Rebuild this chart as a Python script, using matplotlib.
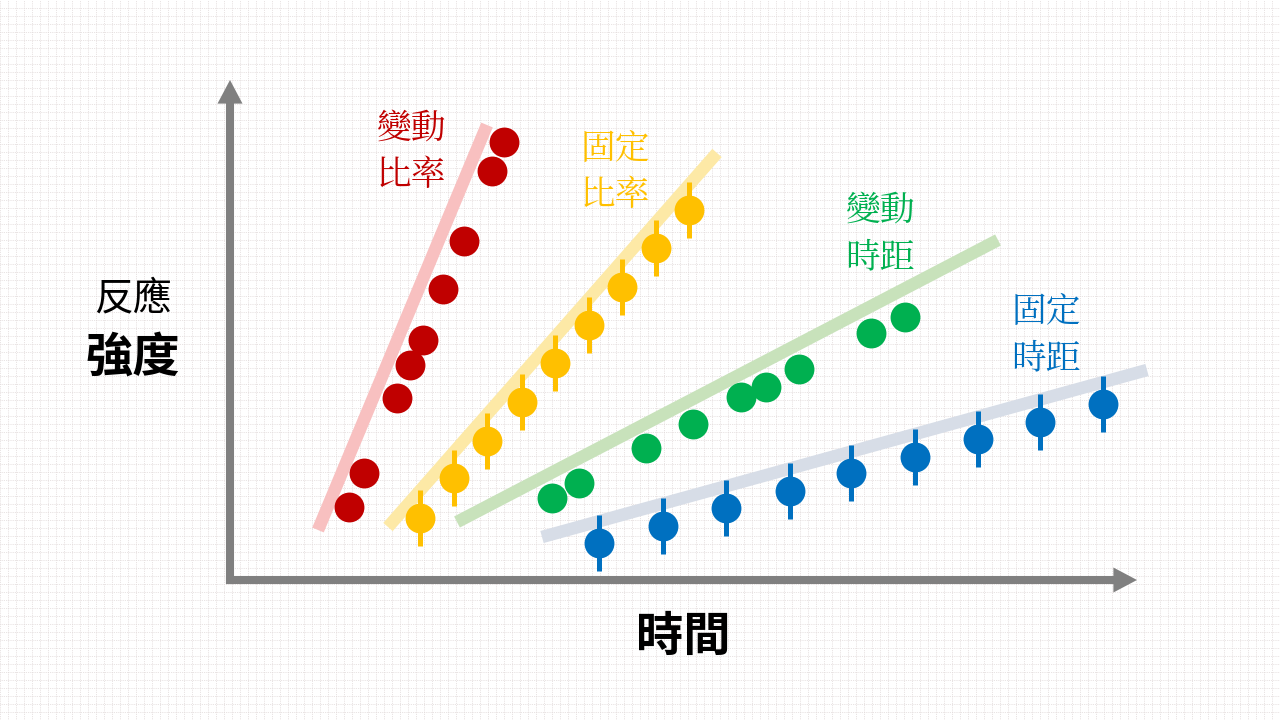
import numpy as np
import matplotlib
matplotlib.use("Agg")
import matplotlib.pyplot as plt

plt.rcParams['font.family'] = ['Noto Sans CJK TC', 'DejaVu Sans']

# 資料 (時間, 強度) -- 以原點為 0
red_x = [119, 134, 167, 180, 193, 213, 234, 262, 274]
red_y = [73, 107, 182, 215, 240, 291, 339, 409, 438]
red_fit_x = [88, 257]
red_fit_y = [50, 455]

yel_x = [190, 224, 257, 292, 325, 359, 392, 426, 459]
yel_y = [62, 102, 139, 178, 217, 255, 293, 332, 370]
yel_fit_x = [158, 487]
yel_fit_y = [53, 427]

grn_x = [322, 349, 416, 463, 511, 536, 569, 641, 675]
grn_y = [82, 97, 132, 156, 183, 193, 211, 247, 263]
grn_fit_x = [227, 768]
grn_fit_y = [58, 340]

blu_x = [369, 433, 496, 560, 621, 685, 748, 810, 873]
blu_y = [37, 54, 72, 89, 107, 123, 141, 158, 176]
blu_fit_x = [312, 917]
blu_fit_y = [43, 210]

err = 28

labels = ['變動\n比率', '固定\n比率', '變動\n時距', '固定\n時距']
label_pos = [(181, 428), (385, 408), (650, 346), (816, 245)]

fig = plt.figure(figsize=(12.8, 7.2), dpi=100)
ax = fig.add_axes([0, 0, 1, 1])
ax.set_xlim(-230, 1050)
ax.set_ylim(-140, 580)

# 背景格線
ax.set_xticks(np.arange(-230, 1050, 8))
ax.set_yticks(np.arange(-140, 580, 8))
ax.tick_params(length=0, labelbottom=False, labelleft=False)
ax.grid(True, color='#e1d9d9', lw=0.6, ls=(0, (1, 1.2)))
ax.set_axisbelow(True)
for s in ax.spines.values():
    s.set_visible(False)

# 趨勢線
ax.plot(red_fit_x, red_fit_y, color='#f8c0c0', lw=9, solid_capstyle='butt', zorder=2)
ax.plot(yel_fit_x, yel_fit_y, color='#fde9a6', lw=9, solid_capstyle='butt', zorder=2)
ax.plot(grn_fit_x, grn_fit_y, color='#c8e2bb', lw=9, solid_capstyle='butt', zorder=2)
ax.plot(blu_fit_x, blu_fit_y, color='#d7dde7', lw=9, solid_capstyle='butt', zorder=2)

# 點
ax.plot(red_x, red_y, 'o', color='#c00000', ms=21.5, mew=0, zorder=3)
ax.plot(grn_x, grn_y, 'o', color='#00b050', ms=21.5, mew=0, zorder=3)
ax.errorbar(yel_x, yel_y, yerr=err, fmt='o', color='#ffc000', ms=21.5, mew=0,
            elinewidth=3.6, capsize=0, zorder=3)
ax.errorbar(blu_x, blu_y, yerr=err, fmt='o', color='#0070c0', ms=21.5, mew=0,
            elinewidth=3.6, capsize=0, zorder=3)

# 座標軸 + 箭頭
gray = '#808080'
ax.plot([0, 890], [0, 0], color=gray, lw=5.8, solid_capstyle='projecting', zorder=4)
ax.plot([0, 0], [0, 480], color=gray, lw=5.8, solid_capstyle='projecting', zorder=4)
head = dict(arrowstyle='-|>,head_length=0.85,head_width=0.45', lw=0,
            color=gray, shrinkA=0, shrinkB=0, mutation_scale=20)
ax.annotate('', xy=(907, 0), xytext=(860, 0), arrowprops=head, zorder=4)
ax.annotate('', xy=(0, 500), xytext=(0, 450), arrowprops=head, zorder=4)

colors = ['#c00000', '#ffc000', '#00b050', '#0070c0']
for lab, (x, y), c in zip(labels, label_pos, colors):
    ax.text(x, y, lab, color=c, fontsize=25, ha='center', va='center',
            linespacing=1.3, family=['Noto Serif CJK TC', 'Noto Sans CJK TC', 'DejaVu Sans'])

ax.text(-97, 282, '反應', fontsize=28, ha='center', va='center', color='black')
ax.text(-97, 222, '強度', fontsize=34, fontweight='bold', ha='center', va='center', color='black')
ax.text(453, -57, '時間', fontsize=34, fontweight='bold', ha='center', va='center', color='black')

fig.savefig('out.png', dpi=100, facecolor='white')
